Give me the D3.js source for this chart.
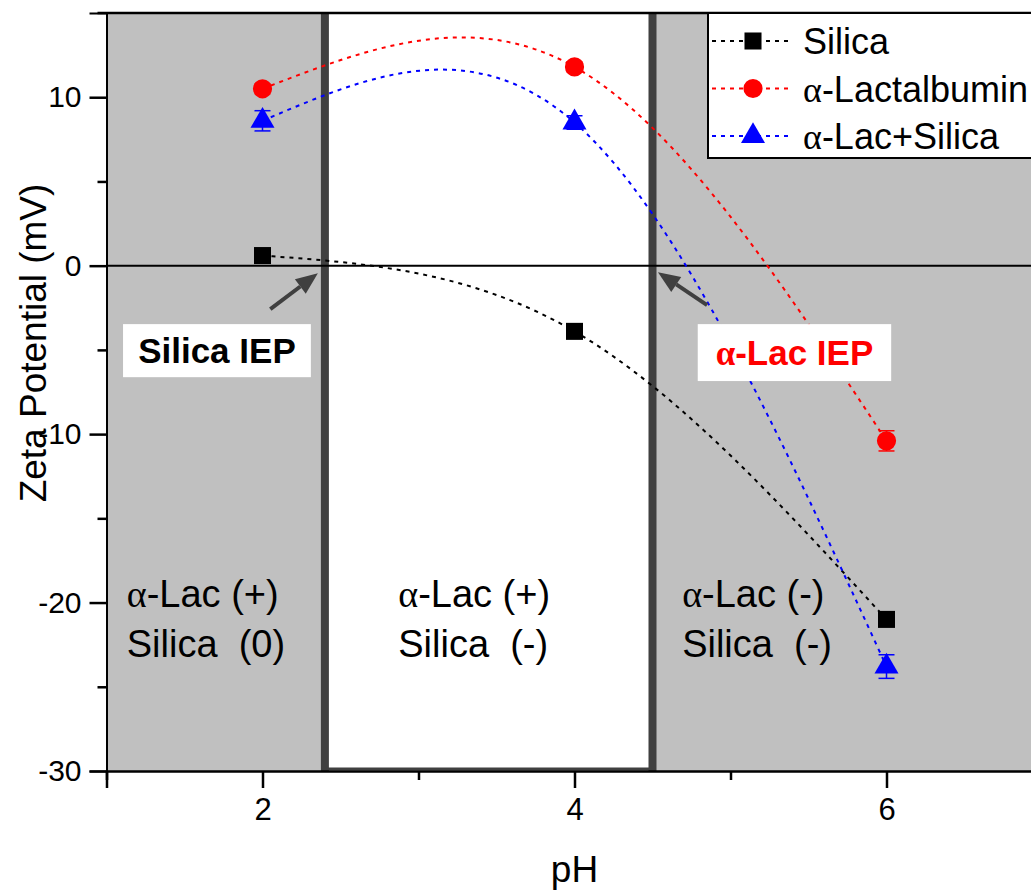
<!DOCTYPE html>
<html>
<head>
<meta charset="utf-8">
<script src="https://cdn.jsdelivr.net/npm/d3@7"></script>
<style>
  body { margin: 0; background: #fff; }
  svg text { font-family: "Liberation Sans", Arial, sans-serif; }
  .greek { font-family: "Liberation Serif", "Times New Roman", serif; }
</style>
</head>
<body>
<svg id="chart" width="1031" height="894"></svg>
<script>
// data
var pH = [2, 4, 6];
var silica = [0.6, -3.9, -21.0];
var silicaErr = [0.2, 0.3, 0.3];
var lactalbumin = [10.5, 11.8, -10.4];
var lactalbuminErr = [0.3, 0.3, 0.6];
var lacSilica = [8.6, 8.5, -23.8];
var lacSilicaErr = [0.6, 0.4, 0.7];

var xMajorTicks = [2, 4, 6];
var xMinorTicks = [1, 3, 5, 7];
var yMajorTicks = [-30, -20, -10, 0, 10];
var yMinorTicks = [-25, -15, -5, 5];

var silicaIEP = 2.4;
var lacIEP = 4.5;

var svg = d3.select('#chart');
var W = 1031, H = 894;

var x = d3.scaleLinear().domain([1, 7]).range([106.5, 1042.5]);
var y = d3.scaleLinear().domain([-30, 15]).range([771, 13]);

var plotTop = y(15), plotBottom = y(-30);

// shaded regions
svg.append('rect')
  .attr('x', x(1)).attr('y', plotTop)
  .attr('width', x(silicaIEP) - x(1)).attr('height', plotBottom - plotTop)
  .attr('fill', '#c0c0c0');
svg.append('rect')
  .attr('x', x(lacIEP)).attr('y', plotTop)
  .attr('width', x(7) - x(lacIEP)).attr('height', plotBottom - plotTop)
  .attr('fill', '#c0c0c0');

// bottom edge of the white band
svg.append('line')
  .attr('x1', x(silicaIEP)).attr('x2', x(lacIEP))
  .attr('y1', plotBottom - 2).attr('y2', plotBottom - 2)
  .attr('stroke', '#404040').attr('stroke-width', 3);

// IEP lines
svg.selectAll('line.iep')
  .data([silicaIEP, lacIEP])
  .enter().append('line')
  .attr('class', 'iep')
  .attr('x1', function(d){ return x(d); })
  .attr('x2', function(d){ return x(d); })
  .attr('y1', plotTop).attr('y2', plotBottom)
  .attr('stroke', '#404040').attr('stroke-width', 8);

// zero line
svg.append('line')
  .attr('x1', x(1)).attr('x2', W)
  .attr('y1', y(0)).attr('y2', y(0))
  .attr('stroke', '#000').attr('stroke-width', 2);

// top border
svg.append('line')
  .attr('x1', x(1) - 9).attr('x2', W)
  .attr('y1', plotTop).attr('y2', plotTop)
  .attr('stroke', '#000').attr('stroke-width', 2.5);

// region texts
var regionX = [1.13, 2.87, 4.69];
var regionLine1 = ['(+)', '(+)', '(-)'];
var regionLine2 = ['Silica  (0)', 'Silica  (-)', 'Silica  (-)'];
regionX.forEach(function(px, i) {
  var t1 = svg.append('text')
    .attr('x', x(px)).attr('y', y(-20.27))
    .attr('font-size', 38).attr('fill', '#000')
    .attr('xml:space', 'preserve');
  t1.append('tspan').attr('class', 'greek').text('α');
  t1.append('tspan').text('-Lac ' + regionLine1[i]);
  svg.append('text')
    .attr('x', x(px)).attr('y', y(-23.23))
    .attr('font-size', 38).attr('fill', '#000')
    .attr('xml:space', 'preserve')
    .text(regionLine2[i]);
});

// series
var series = [
  {name: 'Silica', values: silica, err: silicaErr, color: '#000000', symbol: d3.symbolSquare, size: 290},
  {name: 'α-Lactalbumin', values: lactalbumin, err: lactalbuminErr, color: '#ff0000', symbol: d3.symbolCircle, size: 290},
  {name: 'α-Lac+Silica', values: lacSilica, err: lacSilicaErr, color: '#0000ff', symbol: d3.symbolTriangle, size: 250}
];

var line = d3.line()
  .x(function(d){ return x(d[0]); })
  .y(function(d){ return y(d[1]); })
  .curve(d3.curveNatural);

series.forEach(function(s) {
  var pts = pH.map(function(p, i){ return [p, s.values[i]]; });
  svg.append('path')
    .datum(pts)
    .attr('d', line)
    .attr('fill', 'none')
    .attr('stroke', s.color)
    .attr('stroke-width', 2)
    .attr('stroke-dasharray', '4,5');
});

series.forEach(function(s) {
  var g = svg.append('g');
  pH.forEach(function(p, i) {
    var cx = x(p), lo = y(s.values[i] - s.err[i]), hi = y(s.values[i] + s.err[i]);
    g.append('line').attr('x1', cx).attr('x2', cx).attr('y1', lo).attr('y2', hi)
      .attr('stroke', s.color).attr('stroke-width', 1.5);
    [lo, hi].forEach(function(yy) {
      g.append('line').attr('x1', cx - 8).attr('x2', cx + 8).attr('y1', yy).attr('y2', yy)
        .attr('stroke', s.color).attr('stroke-width', 1.5);
    });
    g.append('path')
      .attr('d', d3.symbol().type(s.symbol).size(s.size)())
      .attr('transform', 'translate(' + cx + ',' + y(s.values[i]) + ')')
      .attr('fill', s.color);
  });
});

// axes
var yAxis = d3.axisLeft(y).tickValues(yMajorTicks).tickSize(17).tickPadding(8)
  .tickFormat(function(d){ return d3.format('d')(d); });
var gy = svg.append('g').attr('transform', 'translate(' + x(1) + ',0)').call(yAxis);
gy.select('.domain').attr('stroke-width', 2);
gy.selectAll('.tick line').attr('stroke-width', 2.5);
gy.selectAll('.tick text').attr('font-size', 30).attr('font-family', '"Liberation Sans", Arial, sans-serif');
gy.selectAll('.tick text').text(function(d){ return d < 0 ? '-' + Math.abs(d) : d; });
svg.append('g').attr('transform', 'translate(' + x(1) + ',0)')
  .call(d3.axisLeft(y).tickValues(yMinorTicks).tickSize(9).tickFormat(''))
  .call(function(g){ g.select('.domain').remove(); g.selectAll('line').attr('stroke-width', 2.5); });

var xAxis = d3.axisBottom(x).tickValues(xMajorTicks).tickSize(17).tickPadding(10)
  .tickFormat(d3.format('d'));
var gx = svg.append('g').attr('transform', 'translate(0,' + plotBottom + ')').call(xAxis);
gx.select('.domain').attr('stroke-width', 2.5);
gx.selectAll('.tick line').attr('stroke-width', 2.5);
gx.selectAll('.tick text').attr('font-size', 31).attr('font-family', '"Liberation Sans", Arial, sans-serif');
svg.append('g').attr('transform', 'translate(0,' + plotBottom + ')')
  .call(d3.axisBottom(x).tickValues(xMinorTicks).tickSize(9).tickFormat(''))
  .call(function(g){ g.select('.domain').remove(); g.selectAll('line').attr('stroke-width', 2.5); });

// axis titles
svg.append('text')
  .attr('x', x(4)).attr('y', 882)
  .attr('text-anchor', 'middle').attr('font-size', 37)
  .text('pH');
svg.append('text')
  .attr('transform', 'translate(46,' + 343 + ') rotate(-90)')
  .attr('text-anchor', 'middle').attr('font-size', 37)
  .text('Zeta Potential (mV)');

// IEP annotations
var arrows = [
  {from: [2.05, -2.58], to: [2.355, -0.45]},
  {from: [4.85, -2.34], to: [4.535, -0.39]}
];
arrows.forEach(function(a) {
  var x1 = x(a.from[0]), y1 = y(a.from[1]), x2 = x(a.to[0]), y2 = y(a.to[1]);
  var ang = Math.atan2(y2 - y1, x2 - x1);
  var hl = 22, hw = 9;
  var bx = x2 - hl * Math.cos(ang), by = y2 - hl * Math.sin(ang);
  svg.append('line').attr('x1', x1).attr('y1', y1).attr('x2', bx).attr('y2', by)
    .attr('stroke', '#404040').attr('stroke-width', 4);
  svg.append('polygon')
    .attr('points', [
      [x2, y2],
      [bx + hw * Math.sin(ang), by - hw * Math.cos(ang)],
      [bx - hw * Math.sin(ang), by + hw * Math.cos(ang)]
    ].map(function(p){ return p.join(','); }).join(' '))
    .attr('fill', '#404040');
});

var labels = [
  {x0: 1.106, x1: 2.31, y0: -3.47, y1: -6.62, color: '#000', greek: '', text: 'Silica IEP'},
  {x0: 4.79, x1: 6.03, y0: -3.47, y1: -6.85, color: '#ff0000', greek: 'α', text: '-Lac IEP'}
];
labels.forEach(function(l) {
  svg.append('rect')
    .attr('x', x(l.x0)).attr('y', y(l.y0))
    .attr('width', x(l.x1) - x(l.x0)).attr('height', y(l.y1) - y(l.y0))
    .attr('fill', '#fff');
  var t = svg.append('text')
    .attr('x', (x(l.x0) + x(l.x1)) / 2).attr('y', (y(l.y0) + y(l.y1)) / 2 + 12)
    .attr('text-anchor', 'middle').attr('font-size', 35).attr('font-weight', 'bold')
    .attr('fill', l.color);
  if (l.greek) t.append('tspan').attr('class', 'greek').text(l.greek);
  t.append('tspan').text(l.text);
});

// legend
var lg = svg.append('g');
lg.append('rect')
  .attr('x', 708).attr('y', plotTop)
  .attr('width', 340).attr('height', 145)
  .attr('fill', '#fff').attr('stroke', '#000').attr('stroke-width', 2);
series.forEach(function(s, i) {
  var cy = 41 + i * 47.5;
  lg.append('line').attr('x1', 712).attr('x2', 790).attr('y1', cy).attr('y2', cy)
    .attr('stroke', s.color).attr('stroke-width', 2).attr('stroke-dasharray', '4,5');
  lg.append('path')
    .attr('d', d3.symbol().type(s.symbol).size(s.size)())
    .attr('transform', 'translate(753,' + cy + ')')
    .attr('fill', s.color);
  var t = lg.append('text').attr('x', 803).attr('y', cy + 13).attr('font-size', 36);
  if (s.name.charAt(0) === 'α') {
    t.append('tspan').attr('class', 'greek').text('α');
    t.append('tspan').text(s.name.slice(1));
  } else {
    t.text(s.name);
  }
});
</script>
</body>
</html>
